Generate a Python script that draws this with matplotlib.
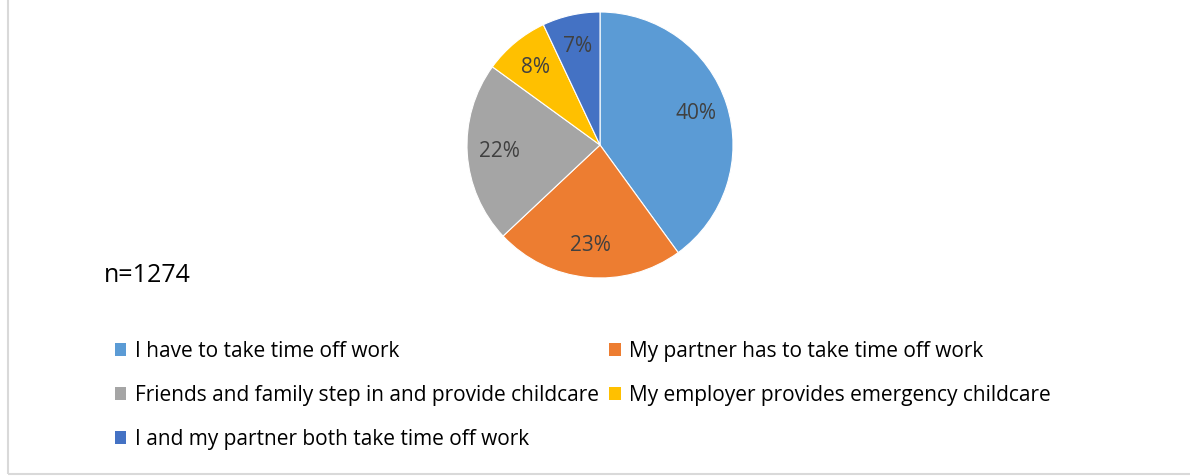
#!/usr/bin/env python3

import matplotlib
matplotlib.use('Agg')
import matplotlib.pyplot as plt
from matplotlib.patches import Patch, Rectangle

plt.rcParams['font.family'] = ['Open Sans', 'DejaVu Sans']

# survey answers (share of respondents, %)
answers = ['I have to take time off work',
           'My partner has to take time off work',
           'Friends and family step in and provide childcare',
           'My employer provides emergency childcare',
           'I and my partner both take time off work']
shares = [40, 23, 22, 8, 7]
colours = ['#5b9bd5', '#ed7d31', '#a5a5a5', '#ffc000', '#4472c4']
n_resp = 1274

W, H = 1190, 476
fig = plt.figure(figsize=(W/100, H/100), dpi=100)

# pie centred at (600,145) px, radius ~133 px
cx, cy, r = 600, 145, 133
ax = fig.add_axes([(cx - r)/W, (H - cy - r)/H, 2*r/W, 2*r/H])
wedges, texts, autotexts = ax.pie(
        shares, colors=colours, startangle=90, counterclock=False,
        autopct='%d%%', pctdistance=0.76,
        wedgeprops=dict(edgecolor='white', linewidth=0.8),
        textprops=dict(color='#404040', fontsize=15))
ax.set_aspect('equal')
ax.set_xlim(-1, 1)
ax.set_ylim(-1, 1)

fig.text(104/W, 1 - 276/H, 'n=%d' % n_resp, fontsize=18, va='center',
         ha='left', color='black')

# legend, Excel lays it out row by row -> reorder for column-major fill
handles = [Patch(facecolor=c, edgecolor='none') for c in colours]
order = [0, 2, 4, 1, 3]
fig.legend([handles[i] for i in order], [answers[i] for i in order],
           ncol=2, loc='upper left', bbox_to_anchor=(115/W, 1 - 341/H),
           frameon=False, fontsize=15, handlelength=0.55, handleheight=0.55,
           handletextpad=0.4, columnspacing=0.5, labelspacing=1.1,
           borderpad=0, borderaxespad=0)

# light grey chart frame (only left and bottom edges are visible)
fig.add_artist(Rectangle((7.5/W, 2.5/H), 2, 2, transform=fig.transFigure,
                         fill=False, edgecolor='#d9d9d9', linewidth=1.5))

fig.savefig('out.png', dpi=100)
print('file saved : out.png')
